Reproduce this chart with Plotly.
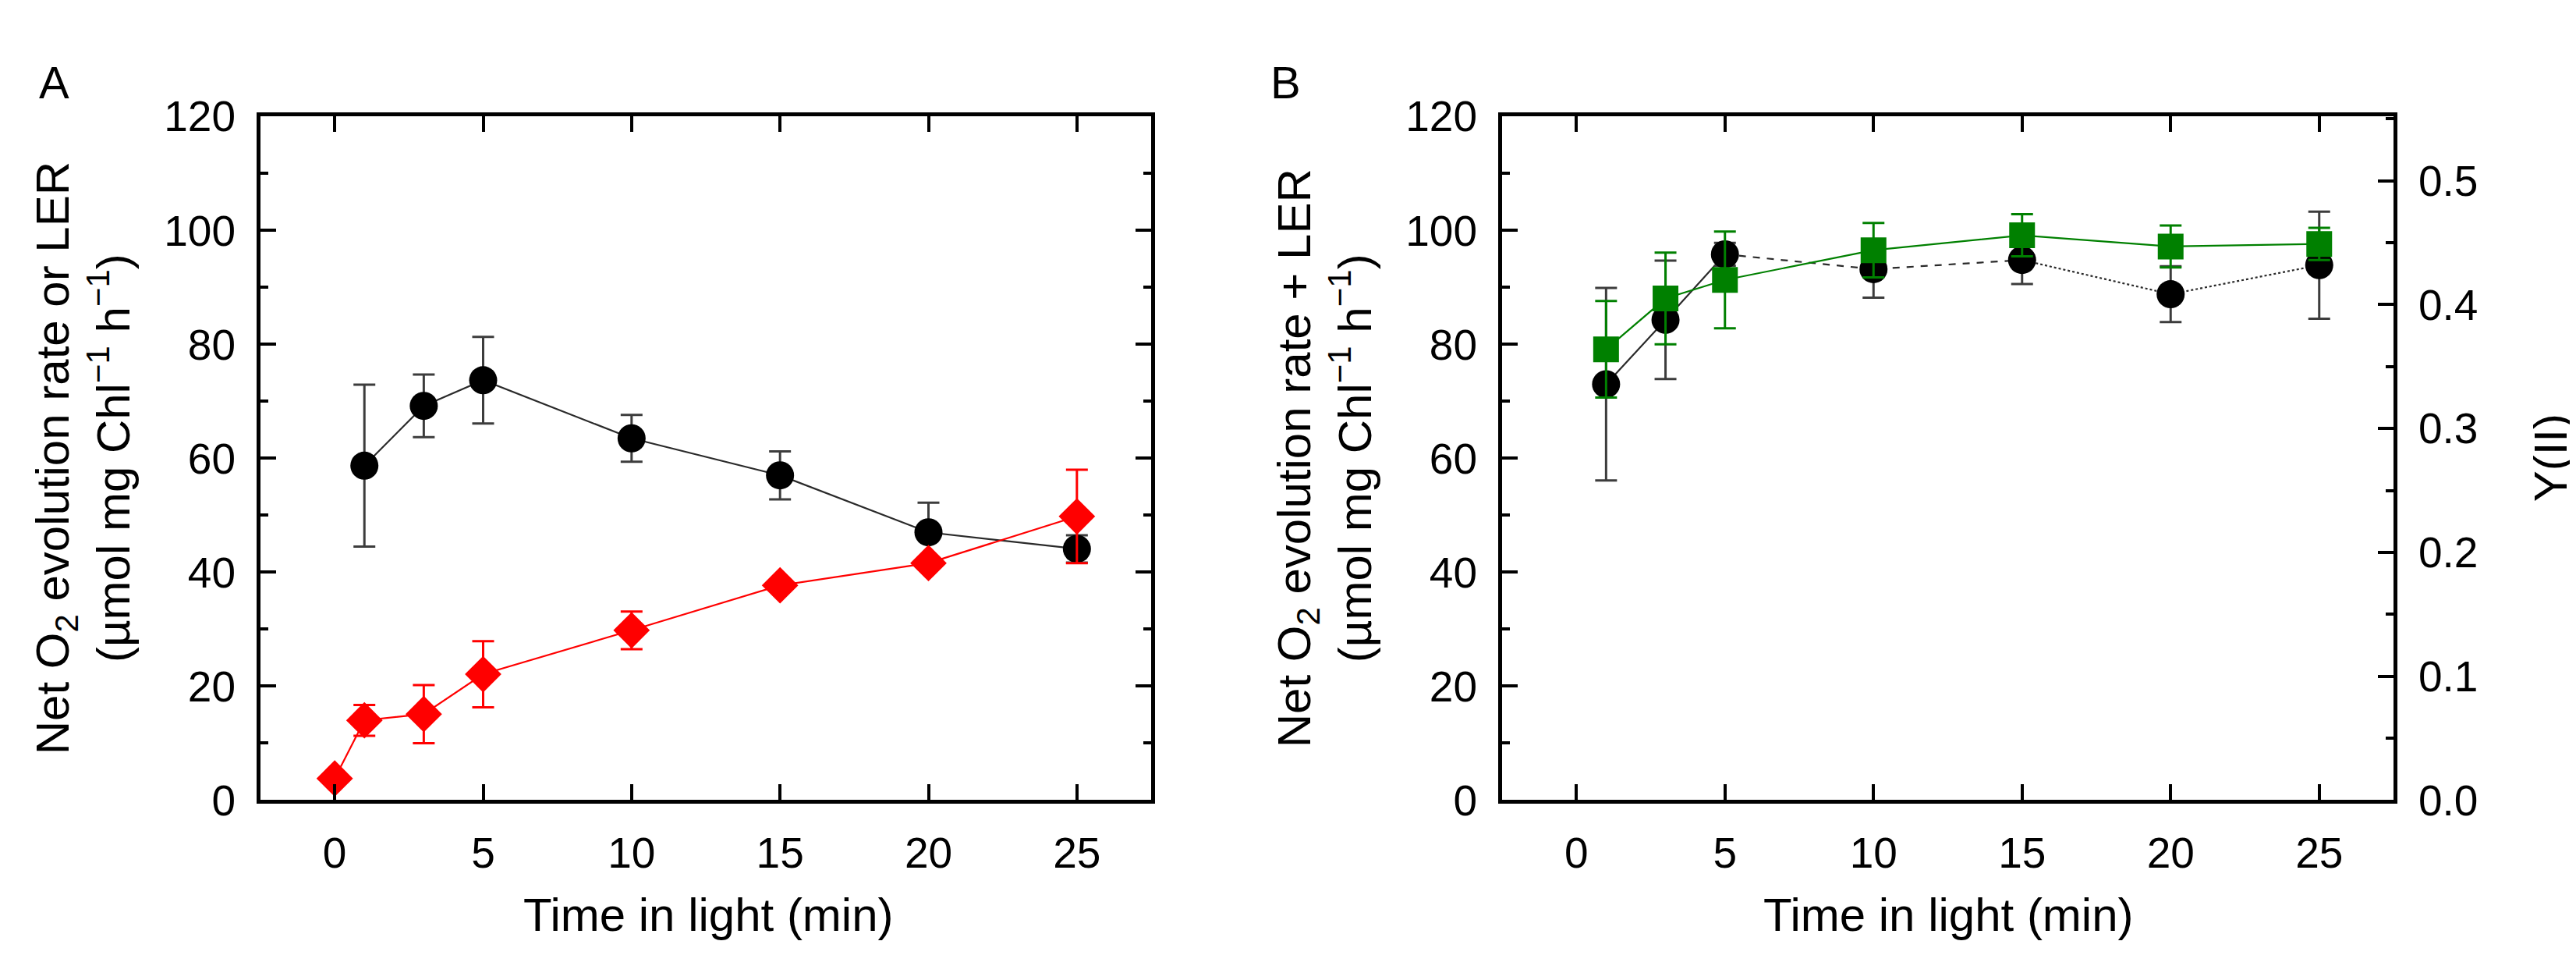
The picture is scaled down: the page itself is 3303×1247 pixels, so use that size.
"""Net O2 evolution / LER time courses (panel A) and their sum with Y(II) (panel B)."""

import plotly.graph_objects as go

# --- data --------------------------------------------------------------

# panel A: net O2 evolution rate (black circles)
a_time_o2 = [1, 3, 5, 10, 15, 20, 25]
a_o2 = [58.7, 69.2, 73.7, 63.5, 57.0, 47.0, 44.1]
a_o2_err = [14.2, 5.5, 7.6, 4.1, 4.2, 5.2, 2.4]

# panel A: LER (red diamonds)
a_time_ler = [0, 1, 3, 5, 10, 15, 20, 25]
a_ler = [3.8, 14.0, 15.1, 22.1, 29.8, 37.7, 41.6, 49.8]
a_ler_err = [0.0, 2.7, 5.1, 5.8, 3.3, 0.8, 1.0, 8.2]

# panel B: net O2 evolution rate + LER (black circles, left axis)
b_time = [1, 3, 5, 10, 15, 20, 25]
b_sum = [73.0, 84.3, 95.8, 93.2, 94.8, 88.8, 93.9]
b_sum_err = [16.9, 10.4, 2.0, 5.0, 4.2, 4.9, 9.4]

# panel B: Y(II) (green squares, right axis)
b_yii = [0.364, 0.405, 0.420, 0.444, 0.456, 0.447, 0.449]
b_yii_err = [0.039, 0.037, 0.039, 0.022, 0.017, 0.017, 0.013]

x_ticks = [0, 5, 10, 15, 20, 25]

# --- styling -------------------------------------------------------------

W, H = 3303, 1247
FONT = "Liberation Sans, Arial, sans-serif"
FS = 55          # tick labels
FS_TITLE = 60    # axis titles
BLACK_LINE = "#2a2a2a"
BLACK_ERR = "#3c3c3c"
RED = "#ff0000"
GREEN = "#008000"


def px_x(p):
    return p / W


def px_y(p):
    return 1 - p / H


def err(vals, color):
    return dict(type="data", array=vals, visible=True, color=color,
                thickness=3, width=14)


fig = go.Figure()

# panel A
fig.add_trace(go.Scatter(
    x=a_time_o2, y=a_o2, error_y=err(a_o2_err, BLACK_ERR),
    mode="lines+markers", line=dict(color=BLACK_LINE, width=2.2),
    marker=dict(symbol="circle", size=36, color="black"),
    xaxis="x", yaxis="y", showlegend=False,
))
fig.add_trace(go.Scatter(
    x=a_time_ler, y=a_ler, error_y=err(a_ler_err, RED),
    mode="lines+markers", line=dict(color=RED, width=2.2),
    marker=dict(symbol="diamond", size=36, color=RED),
    xaxis="x", yaxis="y", showlegend=False,
))

# panel B, black line changes style along the series
for sl, dash in [(slice(0, 3), "solid"), (slice(2, 5), "dash"), (slice(4, 7), "dot")]:
    fig.add_trace(go.Scatter(
        x=b_time[sl], y=b_sum[sl], mode="lines",
        line=dict(color=BLACK_LINE, width=2.2, dash=dash),
        xaxis="x2", yaxis="y2", showlegend=False, hoverinfo="skip",
    ))
fig.add_trace(go.Scatter(
    x=b_time, y=b_sum, error_y=err(b_sum_err, BLACK_ERR),
    mode="markers", marker=dict(symbol="circle", size=36, color="black"),
    xaxis="x2", yaxis="y2", showlegend=False,
))
fig.add_trace(go.Scatter(
    x=b_time, y=b_yii, error_y=err(b_yii_err, GREEN),
    mode="lines+markers", line=dict(color=GREEN, width=2.2),
    marker=dict(symbol="square", size=33, color=GREEN),
    xaxis="x2", yaxis="y3", showlegend=False,
))

# --- axes ------------------------------------------------------------------

common = dict(
    showline=True, linecolor="black", linewidth=5,
    ticks="inside", ticklen=20, tickwidth=4, tickcolor="black",
    showgrid=False, zeroline=False,
    tickfont=dict(family=FONT, size=FS, color="black"),
    ticklabelstandoff=16,
)
xcommon = dict(common, range=[-2.5, 27.5], tickvals=x_ticks, mirror="ticks")
ycommon = dict(common, range=[0, 120], dtick=20,
               minor=dict(ticks="inside", ticklen=10, tickwidth=4,
                          tickcolor="black", dtick=10, showgrid=False))

xa_dom = [px_x(326), px_x(1468)]
xb_dom = [px_x(1918), px_x(3061)]
y_dom = [px_y(1038), px_y(116)]

fig.update_layout(
    width=W, height=H,
    margin=dict(l=0, r=0, t=0, b=0),
    paper_bgcolor="white", plot_bgcolor="white",
    font=dict(family=FONT, size=FS, color="black"),
    xaxis=dict(xcommon, domain=xa_dom, anchor="y"),
    yaxis=dict(ycommon, domain=y_dom, anchor="x", mirror="ticks"),
    xaxis2=dict(xcommon, domain=xb_dom, anchor="y2"),
    yaxis2=dict(ycommon, domain=y_dom, anchor="x2", mirror=False),
    yaxis3=dict(common, range=[0, 0.552], dtick=0.1, tickformat=".1f",
                overlaying="y2", side="right", anchor="x2",
                minor=dict(ticks="inside", ticklen=10, tickwidth=4,
                           tickcolor="black", dtick=0.05, showgrid=False)),
)

# --- text ----------------------------------------------------------------

def label(text, x, y, angle=0, size=FS_TITLE):
    fig.add_annotation(
        text=text, x=px_x(x), y=px_y(y), xref="paper", yref="paper",
        showarrow=False, textangle=angle, xanchor="center", yanchor="middle",
        font=dict(family=FONT, size=size, color="black"),
    )


label("A", 62, 70, size=58)
label("B", 1640, 70, size=58)
label("Time in light (min)", 900, 1193)
label("Time in light (min)", 2490, 1193)
label("Net O<sub>2</sub> evolution rate or LER<br>"
      "(µmol mg Chl<sup>−1</sup> h<sup>−1</sup>)", 98, 577, angle=-90)
label("Net O<sub>2</sub> evolution rate + LER<br>"
      "(µmol mg Chl<sup>−1</sup> h<sup>−1</sup>)", 1690, 577, angle=-90)
label("Y(II)", 3262, 577, angle=-90)

fig.write_html("out.html")
